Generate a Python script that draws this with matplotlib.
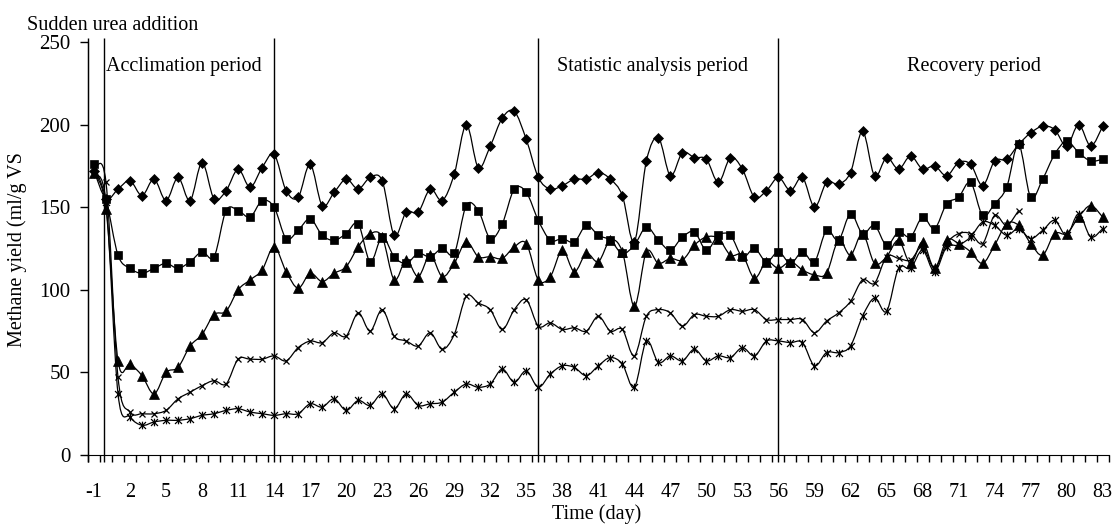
import numpy as np
import matplotlib
matplotlib.use('Agg')
import matplotlib.pyplot as plt
from matplotlib.path import Path
from matplotlib.patches import PathPatch

plt.rcParams['font.family'] = 'Liberation Serif'
plt.rcParams['font.size'] = 14.5

# days -1 .. 83
days = list(range(-1, 84))

diamond = [172, 155, 161, 166, 157, 167, 154, 168, 154, 177,
           155, 160, 173, 162, 174, 182, 160, 156, 176, 151,
           159, 167, 161, 168, 166, 133, 147, 147, 161, 154,
           170, 200, 174, 187, 204, 208, 191, 168, 161, 163,
           167, 167, 171, 167, 157, 129, 178, 192, 169, 183,
           180, 179, 165, 180, 173, 156, 160, 168, 160, 168,
           150, 165, 164, 171, 196, 169, 180, 173, 181, 173,
           175, 169, 177, 176, 163, 178, 179, 188, 195, 199,
           197, 187, 200, 187, 199]

square = [176, 155, 121, 113, 110, 113, 116, 113, 117, 123,
          120, 148, 148, 144, 154, 150, 131, 136, 143, 133,
          130, 134, 140, 117, 132, 120, 116, 122, 120, 125,
          122, 151, 148, 131, 140, 161, 159, 142, 130, 131,
          129, 139, 133, 130, 122, 127, 138, 130, 124, 132,
          135, 124, 133, 133, 120, 125, 117, 123, 116, 123,
          117, 136, 130, 146, 134, 139, 127, 135, 132, 144,
          137, 152, 156, 165, 145, 152, 162, 188, 156, 167,
          182, 190, 183, 178, 179]

triangle = [171, 149, 57, 55, 48, 37, 50, 53, 66, 73,
            85, 87, 100, 106, 112, 126, 111, 101, 110, 105,
            110, 114, 126, 134, 132, 106, 118, 108, 121, 108,
            116, 129, 120, 120, 119, 126, 128, 106, 108, 124,
            111, 122, 117, 130, 123, 90, 123, 116, 119, 118,
            127, 132, 131, 121, 121, 107, 117, 113, 117, 112,
            109, 110, 130, 121, 134, 116, 120, 130, 116, 129,
            113, 130, 128, 123, 116, 127, 140, 139, 128, 121,
            134, 134, 144, 151, 144]

# thin cross series stops after day 76
cross = [173, 165, 47, 26, 25, 25, 27, 34, 38, 42,
         45, 43, 58, 58, 58, 60, 57, 65, 69, 68,
         74, 72, 86, 75, 88, 72, 69, 66, 74, 64,
         73, 96, 92, 88, 76, 88, 94, 78, 80, 76,
         77, 75, 84, 75, 76, 60, 84, 88, 86, 78,
         85, 84, 84, 88, 87, 88, 82, 82, 82, 82,
         74, 81, 86, 93, 106, 104, 120, 119, 118, 126,
         113, 128, 134, 134, 128, 145, 139, 148, None, None,
         None, None, None, None, None]

star = [170, 153, 37, 23, 18, 20, 21, 21, 22, 24,
        25, 27, 28, 26, 25, 24, 25, 25, 31, 29,
        34, 27, 33, 30, 37, 28, 37, 30, 31, 32,
        38, 43, 41, 43, 52, 44, 51, 41, 49, 54,
        53, 48, 54, 59, 55, 41, 69, 56, 60, 57,
        64, 57, 60, 59, 65, 60, 69, 69, 68, 68,
        54, 62, 62, 66, 84, 95, 87, 113, 113, 124,
        111, 126, 127, 132, 141, 139, 133, 137, 131, 136,
        142, 133, 146, 132, 137]

tick_days = list(range(-1, 84, 3))
line_days = [-1.5, -0.17, 14, 36, 56]
period_names = ['Acclimation period', 'Statistic analysis period', 'Recovery period']
period_days = [6.5, 45.5, 72.3]


def smooth_path(x, y):
    # excel style smoothed line, catmull-rom turned into bezier curves
    pts = np.array([(a, b) for a, b in zip(x, y) if b is not None], float)
    n = len(pts)
    verts = [pts[0]]
    codes = [Path.MOVETO]
    for i in range(n - 1):
        p0 = pts[max(i - 1, 0)]
        p1 = pts[i]
        p2 = pts[i + 1]
        p3 = pts[min(i + 2, n - 1)]
        verts += [p1 + (p2 - p0) / 6, p2 - (p3 - p1) / 6, p2]
        codes += [Path.CURVE4] * 3
    return Path(verts, codes)


# excel star marker: an x with a vertical bar through it
star_marker = Path([(-1, -1), (1, 1), (-1, 1), (1, -1), (0, -1.1), (0, 1.1)],
                   [Path.MOVETO, Path.LINETO] * 3)

fig = plt.figure(figsize=(11.13, 5.26), dpi=100)
ax = fig.add_axes([88 / 1113, 1 - 455 / 526, 1020.7 / 1113, 413 / 526])

series = [
    (diamond, dict(marker='D', markersize=5.3, mew=0.5)),
    (square, dict(marker='s', markersize=5.6, mew=0.5)),
    (triangle, dict(marker='^', markersize=6.5, mew=0.5)),
    (cross, dict(marker='x', markersize=5, mew=0.9)),
    (star, dict(marker=star_marker, markersize=5.5, mew=0.9, mfc='none')),
]

for vals, mk in series:
    ax.add_patch(PathPatch(smooth_path(days, vals), fill=False,
                           edgecolor='black', linewidth=0.9))
    yv = [np.nan if v is None else v for v in vals]
    ax.plot(days, yv, linestyle='none', color='black', **mk)

# period separators
ax.vlines(line_days, -4, 252.5, colors='black', linewidth=1, clip_on=False)

for name, d in zip(period_names, period_days):
    ax.text(d, 232.5, name, ha='center', va='baseline')

ax.set_xlim(-1.5, 83.5)
ax.set_ylim(0, 250)
ax.set_yticks([0, 50, 100, 150, 200, 250])
ax.tick_params(axis='y', direction='out', length=5.8, width=1, pad=7, labelsize=15)

# tick marks between categories, labels every third day
ax.set_xticks(np.arange(-1.5, 84, 1))
ax.set_xticklabels([])
ax.set_xticks(tick_days, minor=True)
ax.set_xticklabels([str(d) for d in tick_days], minor=True)
ax.tick_params(axis='x', which='major', direction='out', length=5, width=1)
ax.tick_params(axis='x', which='minor', length=0, pad=20, labelsize=14.5)

ax.spines['top'].set_visible(False)
ax.spines['right'].set_visible(False)

fig.text(27 / 1113, 1 - 30 / 526, 'Sudden urea addition', ha='left', va='baseline')
fig.text(17 / 1113, 1 - 250 / 526, 'Methane yield (ml/g VS', rotation=90,
         ha='center', va='center')
fig.text(597 / 1113, 1 - 519 / 526, 'Time (day)', ha='center', va='baseline')

fig.savefig('out.png', dpi=100)
